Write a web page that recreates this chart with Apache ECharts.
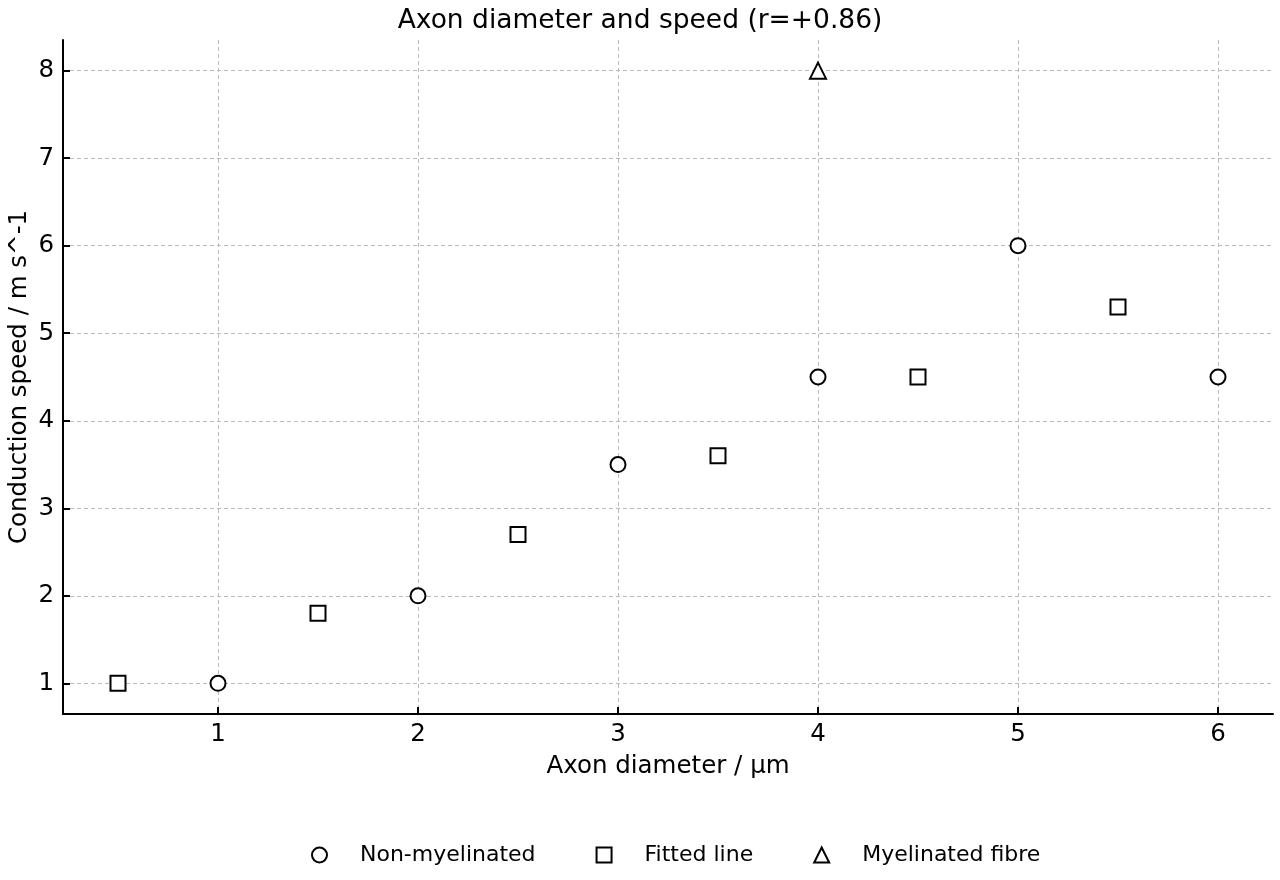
<!DOCTYPE html>
<html lang="en">
<head>
<meta charset="UTF-8">
<title>Axon diameter and speed</title>
<style>
  * { margin: 0; padding: 0; }
  body { background: #fff; }
  #chart { width: 1280px; height: 880px; }
</style>
<script src="https://cdn.jsdelivr.net/npm/echarts@6/dist/echarts.min.js"></script>
</head>
<body>
<div id="chart"></div>
<script>
// data
var nonMyelX = [1, 2, 3, 4, 5, 6];
var nonMyelY = [1, 2, 3.5, 4.5, 6, 4.5];
var fitX = [0.5, 1.5, 2.5, 3.5, 4.5, 5.5];
var fitY = [1, 1.8, 2.7, 3.6, 4.5, 5.3];
var myelX = [4];
var myelY = [8];
var xTicks = [1, 2, 3, 4, 5, 6];
var yTicks = [1, 2, 3, 4, 5, 6, 7, 8];

function pairs(xs, ys) {
  var out = [];
  for (var i = 0; i < xs.length; i++) out.push([xs[i], ys[i]]);
  return out;
}

var font = 'DejaVu Sans';
var marker = { color: '#fff', borderColor: '#000', borderWidth: 2, opacity: 1 };
var grid = { color: '#bbb', type: [4, 3], width: 1 };

var chart = echarts.init(document.getElementById('chart'));
chart.setOption({
  animation: false,
  textStyle: { fontFamily: font, color: '#000' },
  title: {
    text: 'Axon diameter and speed (r=+0.86)',
    left: 'center', top: 3,
    textStyle: { fontFamily: font, fontSize: 26.5, fontWeight: 'normal', color: '#000' }
  },
  grid: { left: 63, right: 7, top: 40, bottom: 166, outerBoundsMode: 'none', containLabel: false },
  legend: {
    bottom: 14, left: 311, padding: 0,
    itemGap: 60, itemWidth: 15, itemHeight: 15,
    textStyle: { fontFamily: font, fontSize: 22, color: '#000', padding: [0, 0, 0, 28] },
    data: [
      { name: 'Non-myelinated', icon: 'circle' },
      { name: 'Fitted line', icon: 'rect' },
      { name: 'Myelinated fibre', icon: 'triangle' }
    ]
  },
  xAxis: {
    type: 'value', min: 0.225, max: 6.275,
    name: 'Axon diameter / µm', nameLocation: 'middle', nameGap: 40,
    nameTextStyle: { fontFamily: font, fontSize: 24.5, color: '#000' },
    axisLine: { lineStyle: { color: '#000', width: 2 } },
    axisTick: { inside: true, length: 7, lineStyle: { color: '#000', width: 2 }, customValues: xTicks },
    axisLabel: { fontSize: 24.5, color: '#000', margin: 8, customValues: xTicks },
    splitLine: { show: true, lineStyle: grid }
  },
  yAxis: {
    type: 'value', min: 0.65, max: 8.35,
    name: 'Conduction speed / m s^-1', nameLocation: 'middle', nameGap: 31,
    nameMoveOverlap: false,
    nameTextStyle: { fontFamily: font, fontSize: 24.5, color: '#000' },
    axisLine: { lineStyle: { color: '#000', width: 2 } },
    axisTick: { inside: true, length: 7, lineStyle: { color: '#000', width: 2 }, customValues: yTicks },
    axisLabel: { fontSize: 24.5, color: '#000', margin: 9, customValues: yTicks },
    splitLine: { show: true, lineStyle: grid }
  },
  series: [
    { name: 'Non-myelinated', type: 'scatter', symbol: 'circle', symbolSize: 15,
      itemStyle: marker, data: pairs(nonMyelX, nonMyelY) },
    { name: 'Fitted line', type: 'scatter', symbol: 'rect', symbolSize: 15,
      itemStyle: marker, data: pairs(fitX, fitY) },
    { name: 'Myelinated fibre', type: 'scatter', symbol: 'triangle', symbolSize: 16,
      itemStyle: marker, data: pairs(myelX, myelY) }
  ]
});
</script>
</body>
</html>
